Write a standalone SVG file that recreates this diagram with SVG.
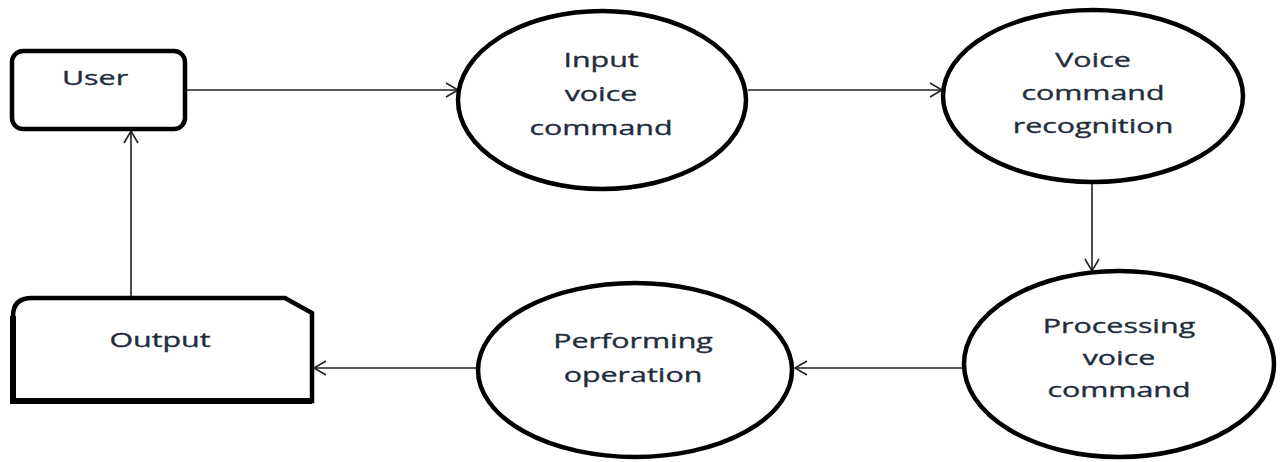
<svg xmlns="http://www.w3.org/2000/svg" width="1281" height="462" viewBox="0 0 1281 462">
<defs>
<style>
.shape{fill:#fff;stroke:#000;stroke-width:4.5}
.conn{fill:none;stroke:#222;stroke-width:1.6}
.lbl{font-family:"Open Sans","Liberation Sans",sans-serif;font-size:20px;fill:#1f2d3d;stroke:#1f2d3d;stroke-width:0.35;text-anchor:middle}
</style>
<marker id="arr" markerUnits="userSpaceOnUse" markerWidth="16" markerHeight="18" refX="13" refY="8" orient="auto">
<path d="M1,1 L13,8 L1,15" fill="none" stroke="#222" stroke-width="1.6"/>
</marker>
</defs>
<rect width="1281" height="462" fill="#fff"/>
<g id="connectors">
<line class="conn" x1="187" y1="90" x2="458" y2="90" marker-end="url(#arr)"/>
<line class="conn" x1="748" y1="90" x2="942" y2="90" marker-end="url(#arr)"/>
<line class="conn" x1="1092" y1="183" x2="1092" y2="271" marker-end="url(#arr)"/>
<line class="conn" x1="963" y1="368" x2="795" y2="368" marker-end="url(#arr)"/>
<line class="conn" x1="477" y1="368" x2="314" y2="368" marker-end="url(#arr)"/>
<line class="conn" x1="131" y1="297" x2="131" y2="131" marker-end="url(#arr)"/>
</g>
<g id="user">
<rect class="shape" x="12" y="51" width="173" height="78" rx="11"/>
<g transform="translate(95,85) scale(1.52,1)"><text class="lbl" x="0" y="0">User</text></g>
</g>
<g id="input">
<ellipse class="shape" cx="602" cy="100" rx="144" ry="89"/>
<g transform="translate(601,0) scale(1.52,1)">
<text class="lbl" x="0" y="67">Input</text>
<text class="lbl" x="0" y="101">voice</text>
<text class="lbl" x="0" y="135">command</text>
</g>
</g>
<g id="recognition">
<ellipse class="shape" cx="1093" cy="96" rx="150" ry="86"/>
<g transform="translate(1093,0) scale(1.52,1)">
<text class="lbl" x="0" y="67">Voice</text>
<text class="lbl" x="0" y="100">command</text>
<text class="lbl" x="0" y="133">recognition</text>
</g>
</g>
<g id="processing">
<ellipse class="shape" cx="1119" cy="364" rx="155" ry="93"/>
<g transform="translate(1119,0) scale(1.52,1)">
<text class="lbl" x="0" y="333">Processing</text>
<text class="lbl" x="0" y="365">voice</text>
<text class="lbl" x="0" y="397">command</text>
</g>
</g>
<g id="performing">
<ellipse class="shape" cx="635" cy="370" rx="157" ry="87"/>
<g transform="translate(633,0) scale(1.52,1)">
<text class="lbl" x="0" y="348">Performing</text>
<text class="lbl" x="0" y="382">operation</text>
</g>
</g>
<g id="output">
<path class="shape" d="M13,401 L13,316 Q13,298 32,298 L285,298 L312,313 L312,401 Z"/>
<path d="M13,316 L13,401 L312,401" fill="none" stroke="#000" stroke-width="6"/>
<g transform="translate(160,347) scale(1.52,1)"><text class="lbl" x="0" y="0">Output</text></g>
</g>
</svg>
